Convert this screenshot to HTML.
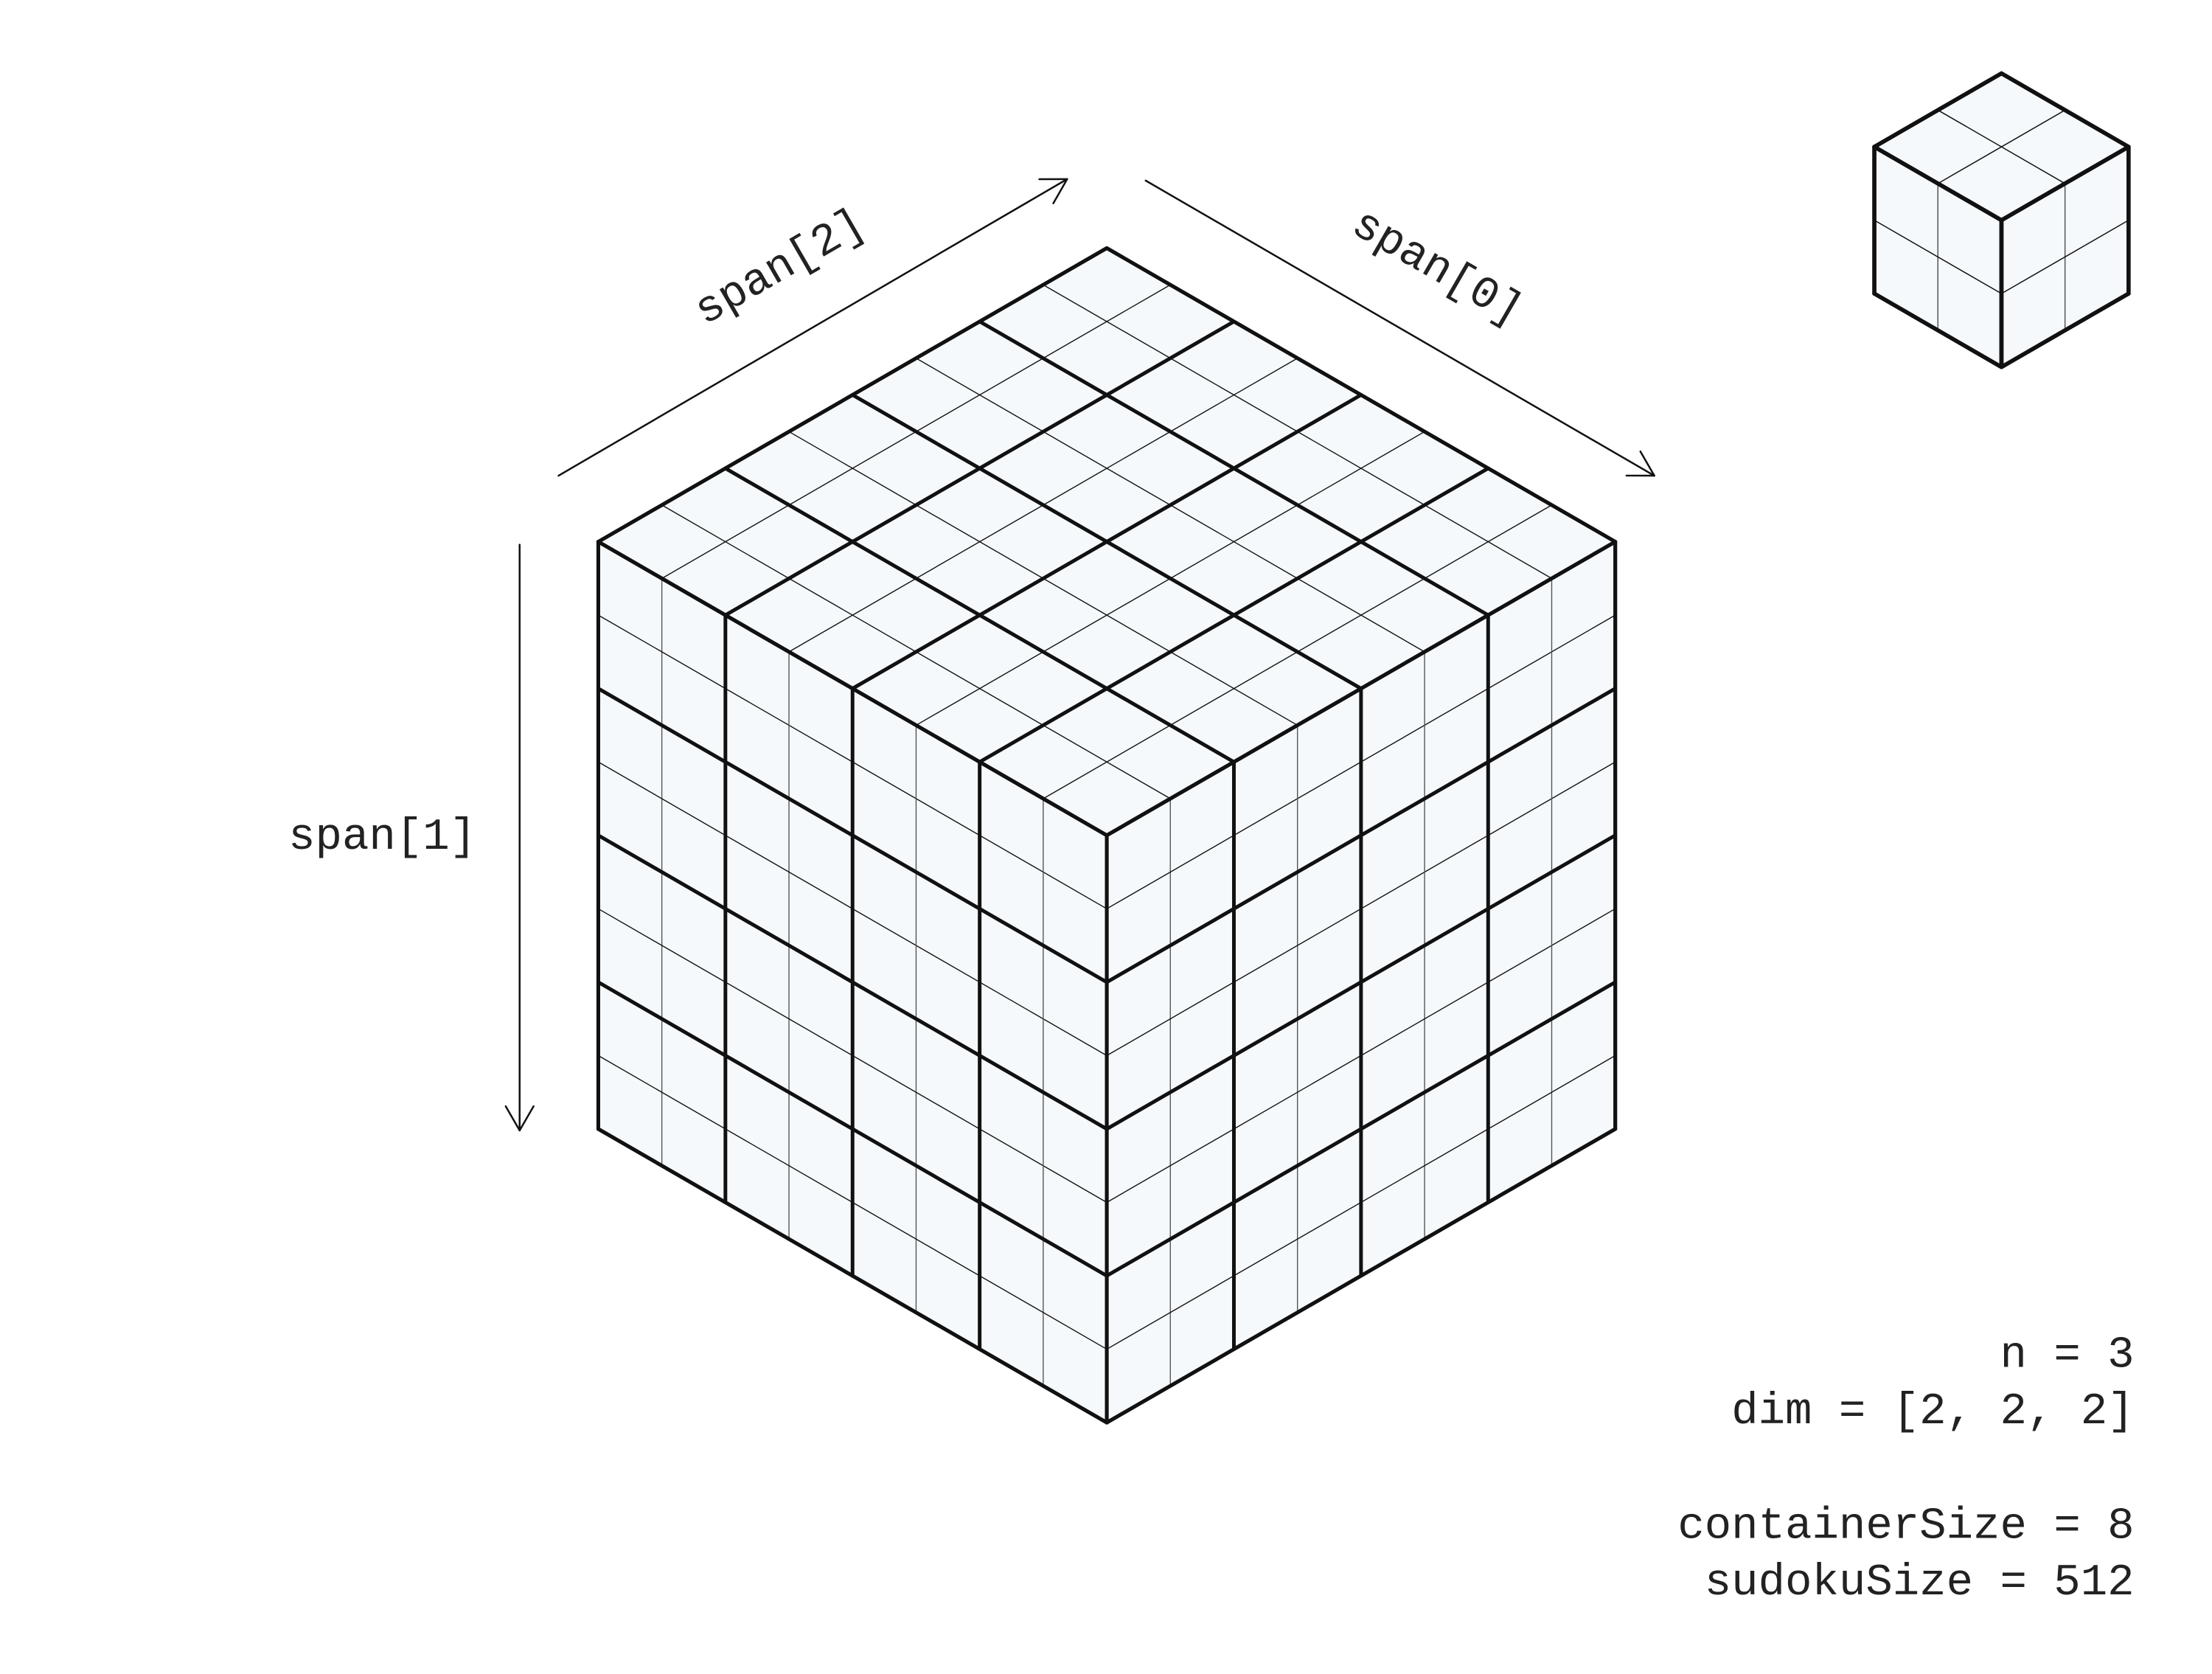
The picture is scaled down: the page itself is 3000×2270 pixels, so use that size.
<!DOCTYPE html>
<html><head><meta charset="utf-8"><style>
html,body{margin:0;padding:0;background:#fff;}
svg{display:block;}
text{font-family:"Liberation Mono",monospace;fill:#222;}
</style></head><body>
<svg id="s" width="3000" height="2270" viewBox="0 0 3000 2270" xmlns="http://www.w3.org/2000/svg">
<g transform="scale(0.9954)">
<g id="big"></g>
<g id="small"></g>
<g id="arrows"></g>
<text x="1063" y="365" font-size="61" text-anchor="middle" dominant-baseline="middle" transform="rotate(-30 1063 365)">span[2]</text>
<text x="1958" y="365" font-size="61" text-anchor="middle" dominant-baseline="middle" transform="rotate(30 1958 365)">span[0]</text>
<text x="521" y="1140" font-size="61" text-anchor="middle" dominant-baseline="middle">span[1]</text>
<text x="2908" y="1862" font-size="61" text-anchor="end">n = 3</text>
<text x="2908" y="1939" font-size="61" text-anchor="end">dim = [2, 2, 2]</text>
<text x="2908" y="2095" font-size="61" text-anchor="end">containerSize = 8</text>
<text x="2908" y="2172" font-size="61" text-anchor="end">sudokuSize = 512</text>
</g>
</svg>
<script>
const dims = [2, 2, 2];
const blocksPerEdge = [4, 4, 4];
const smallCells = [2, 2, 2];
const NS = "http://www.w3.org/2000/svg";
const C30 = Math.cos(Math.PI/6);
function mk(parent, tag, attrs){
  const e = document.createElementNS(NS, tag);
  for (const k in attrs) e.setAttribute(k, attrs[k]);
  parent.appendChild(e); return e;
}
function line(g, a, b, w, col, name){
  const l = mk(g, 'line', {x1:a[0],y1:a[1],x2:b[0],y2:b[1],stroke:col,'stroke-width':w,'stroke-linecap':'round'});
  
  
}
function drawCube(g, cx, cy, L, blocks, cellsPerBlock, thick, thin){
  const N = blocks*cellsPerBlock, c = L/N;
  const T=[cx,cy-L], Lf=[cx-L*C30,cy-L/2], R=[cx+L*C30,cy-L/2], Ce=[cx,cy], B=[cx,cy+L], LB=[cx-L*C30,cy+L/2], RB=[cx+L*C30,cy+L/2];
  const faces = [[T,R,Ce,Lf],[Lf,Ce,B,LB],[Ce,R,RB,B]];
  faces.forEach((f,i)=>{
    const p = mk(g,'polygon',{points:f.map(q=>q.join(',')).join(' '),fill:'#f5f9fc',stroke:'none'});
    
    
  });
  const add=(p,v,k)=>[p[0]+v[0]*k,p[1]+v[1]*k];
  const dR=[C30,0.5], dL=[-C30,0.5], dU=[C30,-0.5], dD=[0,1];
  const passes=[false,true];
  passes.forEach(th=>{
    for(let i=0;i<=N;i++){
      const isThick = (i%cellsPerBlock===0);
      if(isThick!==th) continue;
      const w = th?thick:thin;
      line(g, add(T,dR,i*c), add(Lf,dR,i*c), w, '#111', th?'top-block-line':'top-cell-line');
      line(g, add(T,dL,i*c), add(R,dL,i*c), w, '#111', th?'top-block-line':'top-cell-line');
      line(g, add(Lf,dR,i*c), add(LB,dR,i*c), w, th?'#111':'#555', th?'left-block-line':'left-cell-line');
      line(g, add(Lf,dD,i*c), add(Ce,dD,i*c), w, '#111', th?'left-block-line':'left-cell-line');
      line(g, add(Ce,dU,i*c), add(B,dU,i*c), w, th?'#111':'#555', th?'right-block-line':'right-cell-line');
      line(g, add(Ce,dD,i*c), add(R,dD,i*c), w, '#111', th?'right-block-line':'right-cell-line');
    }
  });
  [[T,R],[R,RB],[RB,B],[B,LB],[LB,Lf],[Lf,T],[Lf,Ce],[Ce,R],[Ce,B]].forEach(e=>line(g,e[0],e[1],thick,'#111','cube-edge'));
}
drawCube(document.getElementById('big'), 1508, 1138, 800, blocksPerEdge[0], dims[0], 5, 1.4);
drawCube(document.getElementById('small'), 2727, 300, 200, 1, smallCells[0], 5.5, 1.5);
function arrow(g, a, b, name){
  line(g, a, b, 2.5, '#111', name);
  const ang = Math.atan2(b[1]-a[1], b[0]-a[0]), h=38;
  [Math.PI*5/6, -Math.PI*5/6].forEach(d=>{
    line(g, b, [b[0]+h*Math.cos(ang+d), b[1]+h*Math.sin(ang+d)], 2.5, '#111', name+'-head');
  });
}
const ag = document.getElementById('arrows');
arrow(ag, [761,648], [1454,244], 'span2-arrow');
arrow(ag, [1561,246], [2254,648], 'span0-arrow');
arrow(ag, [708,742], [708,1540], 'span1-arrow');
</script>
</body></html>
